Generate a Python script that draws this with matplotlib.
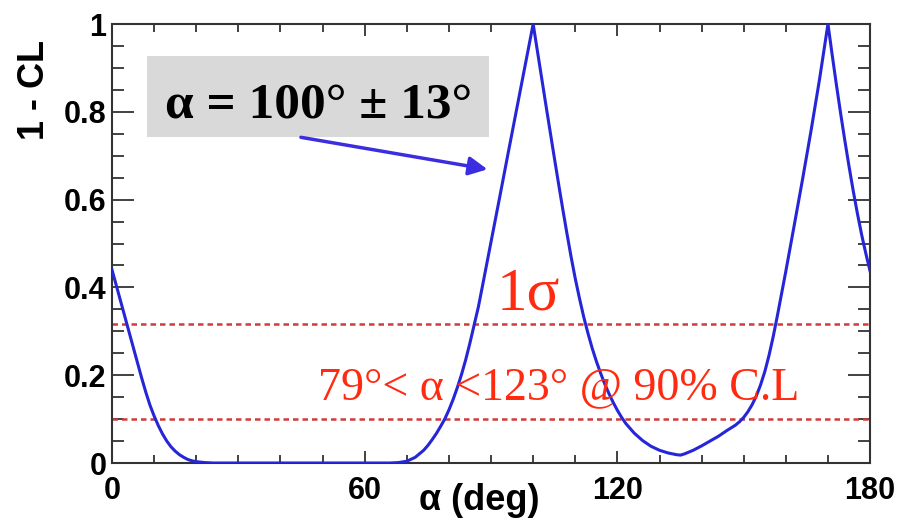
import numpy as np
import matplotlib
matplotlib.use('Agg')
import matplotlib.pyplot as plt
from matplotlib.ticker import MultipleLocator
from matplotlib.patches import Rectangle

# scan of 1-CL versus alpha
alpha = [0, 1, 2, 3, 4, 5, 6, 7, 8, 9, 10, 11, 12, 13, 14, 15, 16, 17, 18, 19, 20, 22, 24,
         30, 40, 50, 60, 66, 68, 70, 72, 74, 75, 76, 77, 78, 79, 80, 81, 82, 83, 84, 85, 86, 87,
         88, 90, 92, 94, 96, 98, 100,
         101, 102, 103, 104, 105, 106, 107, 108, 109, 110, 111, 112, 113, 114, 115, 116, 117,
         118, 119, 120, 121, 122, 124, 126, 128, 130, 132, 134, 135,
         136, 138, 140, 142, 144, 146, 148, 149, 150, 151, 152, 153, 154, 155, 156, 157, 158,
         160, 162, 164, 166, 168, 170,
         171, 172, 173, 174, 175, 176, 177, 178, 179, 180]
one_minus_cl = [0.44, 0.405, 0.37, 0.335, 0.3, 0.265, 0.23, 0.195, 0.162, 0.132, 0.107, 0.085, 0.066,
                0.05, 0.037, 0.027, 0.019, 0.013, 0.008, 0.005, 0.003, 0.001, 0,
                0, 0, 0, 0, 0, 0.001, 0.004, 0.013, 0.029, 0.04, 0.053, 0.067, 0.083, 0.1, 0.121,
                0.145, 0.172, 0.202, 0.236, 0.274, 0.315, 0.356,
                0.405, 0.504, 0.603, 0.703, 0.802, 0.901, 1.0,
                0.939, 0.878, 0.817, 0.757, 0.697, 0.638, 0.58, 0.524, 0.47, 0.42, 0.375, 0.333,
                0.296, 0.262, 0.232, 0.205, 0.18, 0.158, 0.138, 0.12, 0.104, 0.09, 0.068, 0.051,
                0.038, 0.029, 0.023, 0.019, 0.018,
                0.021, 0.029, 0.039, 0.05, 0.061, 0.074, 0.086, 0.094, 0.104, 0.117, 0.133, 0.153,
                0.178, 0.208, 0.245, 0.288, 0.336, 0.437, 0.542, 0.648, 0.758, 0.874, 1.0,
                0.93, 0.862, 0.797, 0.735, 0.676, 0.62, 0.568, 0.52, 0.477, 0.437]
cl_levels = [0.317, 0.1]

fig = plt.figure(figsize=(9.02, 5.2), dpi=100)
ax = fig.add_axes([0.1242, 0.1096, 0.8404, 0.8442])

ax.plot(alpha, one_minus_cl, color='#2626d8', lw=2.2, zorder=3)
for lev in cl_levels:
    ax.axhline(lev, color='#d03c3c', lw=1.8, ls=(0, (2.2, 1.6)), zorder=2)

ax.set_xlim(0, 180)
ax.set_ylim(0, 1)
ax.xaxis.set_minor_locator(MultipleLocator(10))
ax.yaxis.set_minor_locator(MultipleLocator(0.05))
ax.set_yticks([0, 0.2, 0.4, 0.6, 0.8, 1.0])
ax.set_yticklabels(['0', '0.2', '0.4', '0.6', '0.8', '1'])
ax.set_xticks([0, 60, 120, 180])
ax.set_xticklabels(['0', '60', '120', '180'])

for s in ax.spines.values():
    s.set_linewidth(1.5)
    s.set_color('#333333')
ax.tick_params(which='both', direction='in', top=True, right=True, color='#333333', width=1.3)
ax.tick_params(axis='x', which='major', length=8.5, pad=9)
ax.tick_params(axis='x', which='minor', length=5.5)
ax.tick_params(axis='y', which='major', length=16, pad=4)
ax.tick_params(axis='y', which='minor', length=8.5)
for lab in ax.get_xticklabels() + ax.get_yticklabels():
    lab.set_family('Liberation Sans')
    lab.set_fontweight('bold')
    lab.set_fontsize(22)

fig.text(35 / 902, 1 - 40 / 520, '1 - CL', rotation=90, ha='center', va='top',
         family='Liberation Sans', fontweight='bold', fontsize=26)
fig.text(479 / 902, 1.5 / 520, 'α (deg)', ha='center', va='bottom',
         family='Liberation Sans', fontweight='bold', fontsize=26)

# grey result box with arrow
ax.add_patch(Rectangle((0.046, 0.743), 0.451, 0.184, transform=ax.transAxes,
                       facecolor='#d9d9d9', edgecolor='none', zorder=4))
ax.text(0.272, 0.786, 'α = 100° ± 13°', transform=ax.transAxes, ha='center', va='baseline',
        family='Liberation Serif', fontweight='bold', fontsize=37, zorder=5)
ax.annotate('', xy=(89.8, 0.668), xytext=(44.2, 0.743),
            arrowprops=dict(arrowstyle='-|>', color='#3a2ee0', lw=2.5, mutation_scale=28),
            zorder=5)

ax.text(91.4, 0.35, '1σ', ha='left', va='baseline', color='#ff2a10',
        family='Liberation Serif', fontsize=44, zorder=5)
ax.text(48.9, 0.145, '79°< α <123° @ 90% C.L', ha='left', va='baseline', color='#ff2a10',
        family='Liberation Serif', fontsize=33, zorder=5)

fig.savefig('out.png', dpi=100)
